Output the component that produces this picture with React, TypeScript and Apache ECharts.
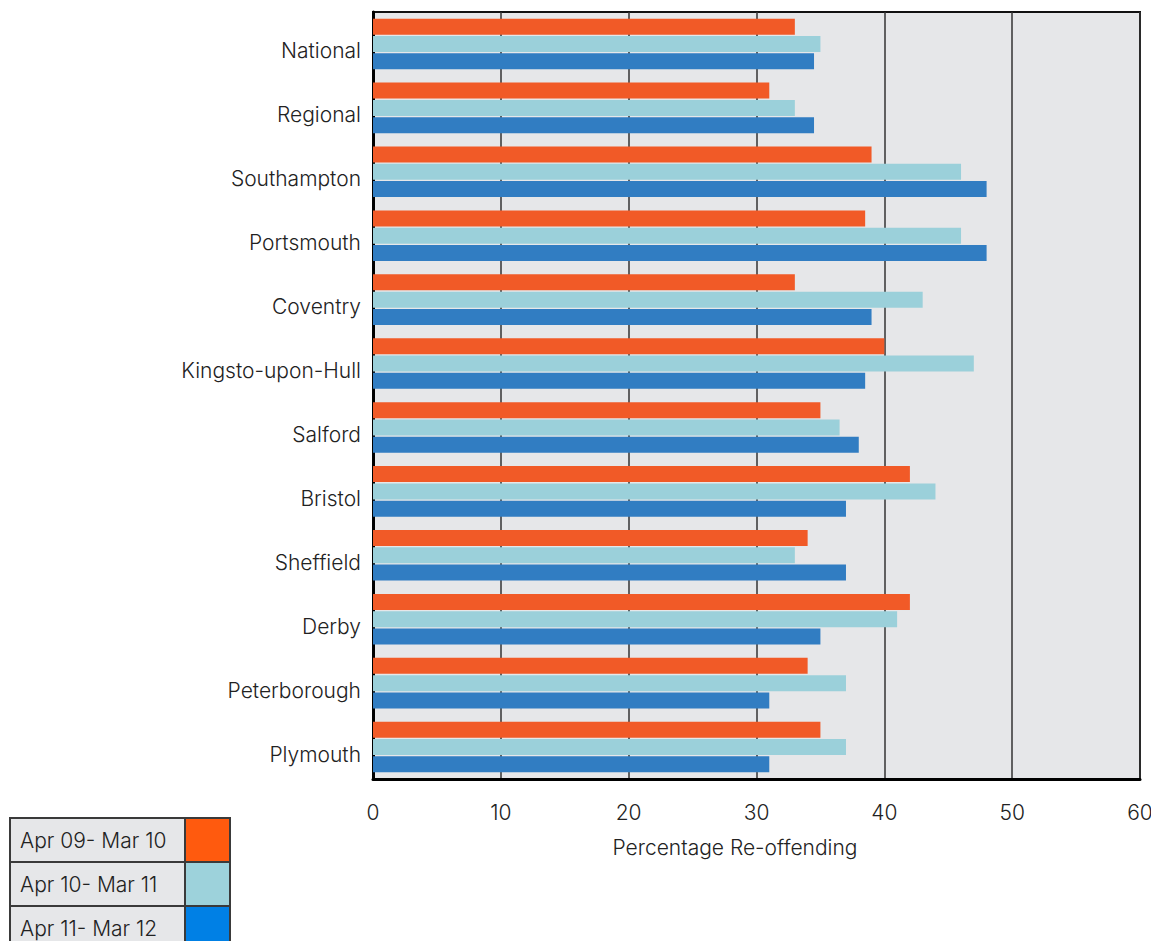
import React, { useEffect, useRef } from "react";
import * as echarts from "echarts";

const categories = [
  "National",
  "Regional",
  "Southampton",
  "Portsmouth",
  "Coventry",
  "Kingsto-upon-Hull",
  "Salford",
  "Bristol",
  "Sheffield",
  "Derby",
  "Peterborough",
  "Plymouth",
];

const seriesNames = ["Apr 09- Mar 10", "Apr 10- Mar 11", "Apr 11- Mar 12"];

const apr09 = [33, 31, 39, 38.5, 33, 40, 35, 42, 34, 42, 34, 35];
const apr10 = [35, 33, 46, 46, 43, 47, 36.5, 44, 33, 41, 37, 37];
const apr11 = [34.5, 34.5, 48, 48, 39, 38.5, 38, 37, 37, 35, 31, 31];

const xAxisTitle = "Percentage Re-offending";

const barColors = ["#F15A27", "#9BD0DA", "#317DC2"];
const legendColors = ["#FF5A0E", "#9DD2DB", "#0080E5"];

const FONT = "Inter";
const WEIGHT = 300;
const SIZE = 21;
const TEXT = "#222222";

export default function App() {
  const ref = useRef<HTMLDivElement>(null);

  useEffect(() => {
    if (!ref.current) return;
    const chart = echarts.init(ref.current, undefined, { renderer: "svg" });

    const values = [apr09, apr10, apr11];

    // Legend drawn as a bordered table: label cell + colour swatch per row
    const rowH = 44;
    const tableX = 10;
    const tableY = 818;
    const labelW = 175;
    const swatchW = 45;
    const graphics: any[] = [];
    seriesNames.forEach((name, i) => {
      const y = tableY + i * rowH;
      graphics.push({
        type: "rect",
        shape: { x: tableX, y, width: labelW, height: rowH },
        style: { fill: "#E6E7E9", stroke: "#3a3a3a", lineWidth: 2 },
      });
      graphics.push({
        type: "rect",
        shape: { x: tableX + labelW, y, width: swatchW, height: rowH },
        style: { fill: legendColors[i], stroke: "#3a3a3a", lineWidth: 2 },
      });
      graphics.push({
        type: "text",
        x: tableX + 10,
        y: y + rowH / 2,
        style: {
          text: name,
          fill: TEXT,
          font: `${WEIGHT} ${SIZE}px ${FONT}`,
          verticalAlign: "middle",
          align: "left",
        },
      });
    });

    // x-axis title, sitting slightly left of the plot centre
    graphics.push({
      type: "text",
      x: 735,
      y: 847,
      style: {
        text: xAxisTitle,
        fill: TEXT,
        font: `${WEIGHT} ${SIZE}px ${FONT}`,
        verticalAlign: "middle",
        align: "center",
      },
    });

    chart.setOption({
      animation: false,
      backgroundColor: "#ffffff",
      grid: {
        left: 373,
        right: 19,
        top: 12,
        bottom: 170,
        show: true,
        backgroundColor: "#E6E7E9",
        borderColor: "#111111",
        borderWidth: 2,
      },
      xAxis: {
        type: "value",
        min: 0,
        max: 60,
        interval: 10,
        axisLine: { show: true, lineStyle: { color: "#000000", width: 3 } },
        axisTick: { show: false },
        axisLabel: { fontFamily: FONT, fontWeight: WEIGHT, fontSize: SIZE, color: TEXT, margin: 23 },
        splitLine: { show: true, lineStyle: { color: "#333333", width: 1.5 } },
      },
      yAxis: {
        type: "category",
        data: categories,
        inverse: true,
        axisLine: { show: true, lineStyle: { color: "#000000", width: 3 } },
        axisTick: { show: false },
        axisLabel: {
          fontFamily: FONT,
          fontWeight: WEIGHT,
          fontSize: SIZE,
          color: TEXT,
          margin: 12,
          verticalAlign: "top",
          lineHeight: 14,
        },
        splitLine: { show: false },
      },
      series: values.map((data, i) => ({
        type: "bar",
        name: seriesNames[i],
        data,
        barWidth: 16,
        barGap: "8%",
        itemStyle: { color: barColors[i] },
        silent: true,
      })),
      graphic: graphics,
    });

    return () => chart.dispose();
  }, []);

  return <div ref={ref} style={{ width: 1159, height: 949, margin: -8 }} />;
}
